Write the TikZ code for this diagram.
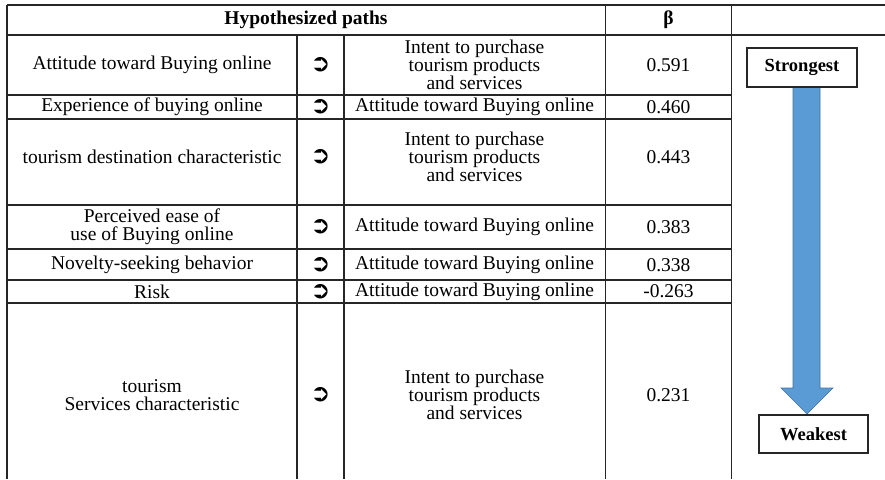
\documentclass[tikz,border=0pt]{standalone}
\usepackage{fontspec}
\setmainfont{Liberation Serif}
\newfontfamily\symfont{DejaVu Sans}
\newcommand\pathintent{Intent to purchase\\tourism products\\and services}
\newcommand\pathattitude{Attitude toward Buying online}

\begin{document}
\begin{tikzpicture}[
      x=1pt, y=-1pt,
      cell/.style={align=center, inner sep=0pt, font=\fontsize{19.5}{18}\selectfont},
      headcell/.style={cell, font=\bfseries\fontsize{19.5}{18}\selectfont},
      sym/.style={inner sep=0pt, font=\symfont\bfseries\fontsize{24}{24}\selectfont},
      rule/.style={draw=black!85, line width=1.1pt},
      tagbox/.style={draw=black!85, line width=1.1pt, fill=white, inner sep=0pt,
        font=\bfseries\fontsize{18.5}{18}\selectfont},
      bigarrow/.style={fill={rgb,255:red,91;green,155;blue,213},
        draw={rgb,255:red,65;green,113;blue,156}, line width=0.6pt},
    ]
    \useasboundingbox (0,0) rectangle (885,479);
    % grid
    \draw[rule] (7,5) -- (885,5);
    \draw[rule] (7,35) -- (885,35);
    \foreach \y in {95,119,205,249,280,303}
      \draw[rule] (7,\y) -- (731.5,\y);
    \draw[rule] (7,5) -- (7,479);
    \draw[rule] (297,35) -- (297,479);
    \draw[rule] (344,35) -- (344,479);
    \draw[rule] (605.5,5) -- (605.5,479);
    \draw[rule] (731.5,5) -- (731.5,479);
    % header
    \node[headcell] (paths) at (306,20) {Hypothesized paths};
    \node[headcell] (beta) at (668.5,20) {β};
    % rows
    \foreach \r/\y/\src/\dst/\b in {
        1/65/{Attitude toward Buying online}/\pathintent/0.591,
        2/107/{Experience of buying online}/\pathattitude/0.460,
        3/157/{tourism destination characteristic}/\pathintent/0.443,
        4/227/{Perceived ease of\\use of Buying online}/\pathattitude/0.383,
        5/265/{Novelty-seeking behavior}/\pathattitude/0.338,
        6/291.5/{Risk}/\pathattitude/-0.263,
        7/395/{tourism\\Services characteristic}/\pathintent/0.231} {
      \node[cell] (src\r) at (152,\y) {\src};
      \node[sym] (sym\r) at (320.5,\y) {➲};
      \node[cell] (dst\r) at (474.5,\y) {\dst};
      \node[cell] (val\r) at (668.5,\y) {\b};
    }
    % strongest to weakest
    \coordinate (atop) at (806.5,87);
    \coordinate (atip) at (807,414);
    \filldraw[bigarrow] (atop) ++(-13.5,0) -- ++(27,0) -- ++(0,301) -- ++(13,0)
      -- (atip) -- ++(-26,-26) -- ++(12,0) -- cycle;
    \node[tagbox, minimum width=110pt, minimum height=39pt] (strong) at (802,67.5) {Strongest};
    \node[tagbox, minimum width=109pt, minimum height=38pt] (weak) at (813.5,434) {Weakest};
\end{tikzpicture}
\end{document}
